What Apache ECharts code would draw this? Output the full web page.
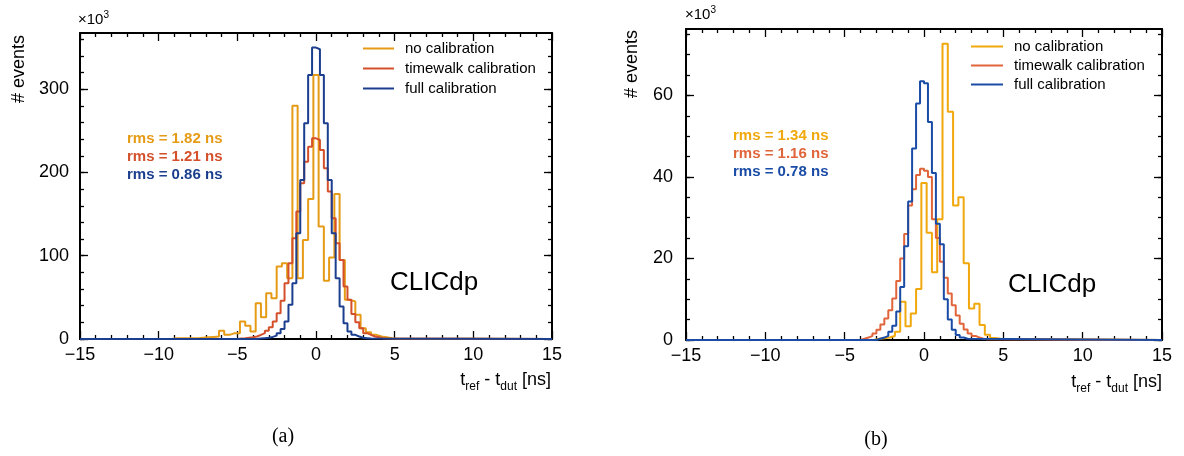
<!DOCTYPE html>
<html><head><meta charset="utf-8">
<script src="https://cdn.jsdelivr.net/npm/echarts@6/dist/echarts.min.js"></script>
<style>html,body{margin:0;padding:0;background:#fff}#c{width:1184px;height:456px}</style>
</head><body><div id="c"></div>
<script>
const FONT = '"Liberation Sans", Arial, Helvetica, sans-serif';
const seriesNames = ['no calibration', 'timewalk calibration', 'full calibration'];
const xTicks = [-15, -10, -5, 0, 5, 10, 15];
const noCalWidth = 1 / 3;   // ns per bin (no calibration)
const calWidth = 0.25;      // ns per bin (calibrated)

// ---------- panel (a) ----------
const aNoCalLo = -55 / 6;
const aNoCal = [1,1,1,1,1,1.5,2,2.5,3,10,5,7,7,21,16,9,43,26,55,49,87,91,73,280,73,119,168,317,135,70,98,174,95,47,45,29,13,8,5,3,2,1,0.5];
const aTwLo = -5.0;
const aTw = [0.7,1,1.5,2,3,5,7,10,14,21,31,46,67,91,121,153,187,213,231,241,239,227,205,177,145,115,95,63,47,30,20,13,7,5,3,2,1,0.5];
const aFullLo = -3.75;
const aFull = [0.5,1,1.5,2.5,4,7,12,21,41,67,127,191,259,317,350,348,317,259,191,127,73,39,19,9,5,3,1.5,1,0.5];
const aYTicks = [0, 100, 200, 300];
const aYMax = 367.5;
const aRms = ['rms = 1.82 ns', 'rms = 1.21 ns', 'rms = 0.86 ns'];
const aColors = ['#e69b16', '#d4502b', '#1b3e8e'];

// ---------- panel (b) ----------
const bNoCalLo = -19 / 6;
const bNoCal = [0.3,0.4,0.6,1.0,2.0,9.4,3.4,6.5,12.5,38.5,26.3,16.6,29.6,72.7,56,33,35,18.8,7.7,8.9,3.7,1.3,0.5,0.3];
const bTwLo = -4.0;
const bTw = [0.3,0.6,1,1.6,2.5,3.8,5.3,7.3,10.2,14.5,20,26,33,37,40.5,42,41.5,40,29.6,25,19.2,15.3,11.4,8.5,6,4,2.6,1.6,1,0.6,0.3,0.2];
const bFullLo = -3.0;
const bFull = [0.3,0.6,1,2,3.5,7,13,23,34,47,58,63.5,63,53.5,41,28.5,23.5,10,5,2.5,1.2,0.6,0.3];
const bYTicks = [0, 20, 40, 60];
const bYMax = 76.3;
const bRms = ['rms = 1.34 ns', 'rms = 1.16 ns', 'rms = 0.78 ns'];
const bColors = ['#f0a80c', '#e0653a', '#1a4ca6'];

function hist(lo, w, counts) {
  const d = [[xTicks[0], 0]];
  counts.forEach((c, i) => d.push([lo + i * w, c]));
  d.push([lo + counts.length * w, 0]);
  d.push([xTicks[xTicks.length - 1], 0]);
  return d;
}
function steps(step, max) { const a = []; for (let k = 0; k * step <= max; k++) a.push(k * step); return a; }
function fmtX(v) { return v < 0 ? '\u2212' + (-v) : String(v); }

const panels = [
  { grid: { left: 80, right: 632, top: 33, bottom: 117 }, yMax: aYMax, yTicks: aYTicks, yMinor: steps(20, aYMax), cols: aColors, labelMargin: 11,
    hists: [hist(aNoCalLo, noCalWidth, aNoCal), hist(aTwLo, calWidth, aTw), hist(aFullLo, calWidth, aFull)],
    legend: { left: 363, top: 41, itemWidth: 31, itemGap: 5 } },
  { grid: { left: 686, right: 22, top: 29, bottom: 116 }, yMax: bYMax, yTicks: bYTicks, yMinor: steps(5, bYMax), cols: bColors, labelMargin: 13,
    hists: [hist(bNoCalLo, noCalWidth, bNoCal), hist(bTwLo, calWidth, bTw), hist(bFullLo, calWidth, bFull)],
    legend: { left: 971, top: 39, itemWidth: 32, itemGap: 4 } }
];

const axisLineStyle = { color: '#000', width: 2 };
const tickStyle = { color: '#000', width: 1.3 };
const grid = [], xAxis = [], yAxis = [], series = [], legend = [];
panels.forEach((p, i) => {
  grid.push(Object.assign({ containLabel: false, outerBoundsMode: 'none' }, p.grid));
  ['bottom', 'top'].forEach(pos => xAxis.push({
    type: 'value', gridIndex: i, min: xTicks[0], max: xTicks[xTicks.length - 1], interval: 5, position: pos,
    axisLine: { show: true, onZero: false, lineStyle: axisLineStyle },
    axisTick: { show: true, inside: true, length: 8, lineStyle: tickStyle },
    minorTick: { show: true, splitNumber: 5, length: 4, lineStyle: tickStyle },
    axisLabel: { show: pos === 'bottom', fontSize: 18, color: '#000', fontFamily: FONT, margin: 7, formatter: fmtX },
    splitLine: { show: false }
  }));
  ['left', 'right'].forEach(pos => {
    yAxis.push({
      type: 'value', gridIndex: i, min: 0, max: p.yMax, position: pos,
      axisLine: { show: true, onZero: false, lineStyle: axisLineStyle },
      axisTick: { show: true, inside: true, length: 8, customValues: p.yTicks, lineStyle: tickStyle },
      axisLabel: { show: pos === 'left', customValues: p.yTicks, fontSize: 18, color: '#000', fontFamily: FONT, margin: p.labelMargin },
      splitLine: { show: false }
    });
    yAxis.push({
      type: 'value', gridIndex: i, min: 0, max: p.yMax, position: pos,
      axisLine: { show: false, onZero: false },
      axisTick: { show: true, inside: true, length: 4, customValues: p.yMinor, lineStyle: tickStyle },
      axisLabel: { show: false },
      splitLine: { show: false }
    });
  });
  p.hists.forEach((d, k) => series.push({
    type: 'line', name: seriesNames[k], step: 'end', symbol: 'none', data: d,
    xAxisIndex: 2 * i, yAxisIndex: 4 * i, clip: true, silent: true,
    lineStyle: { color: p.cols[k], width: 2 }, itemStyle: { color: p.cols[k] },
    emphasis: { disabled: true }, z: 2 + k
  }));
  legend.push(Object.assign({
    orient: 'vertical', itemHeight: 2, icon: 'rect', selectedMode: false, padding: 0,
    textStyle: { fontSize: 15, fontFamily: FONT, color: '#000', lineHeight: 14, padding: [0, 0, 0, 6] },
    data: seriesNames.map((n, k) => ({ name: n, icon: 'rect', itemStyle: { color: p.cols[k] } }))
  }, p.legend));
});

function txt(x, y, text, opts) {
  const o = opts || {};
  return {
    type: 'text', x: x, y: y, rotation: o.rotation || 0, silent: true,
    style: Object.assign({
      text: text, fill: o.fill || '#000', font: o.font || ('18px ' + FONT),
      align: o.align || 'left', textAlign: o.align || 'left',
      verticalAlign: 'middle', textVerticalAlign: 'middle'
    }, o.rich ? { rich: o.rich } : {})
  };
}
const supRich = { m: { fontSize: 15, fontFamily: FONT, lineHeight: 20, verticalAlign: 'middle' }, p: { fontSize: 10, fontFamily: FONT, lineHeight: 20, verticalAlign: 'top' } };
const subRich = { m: { fontSize: 18, fontFamily: FONT, lineHeight: 26, verticalAlign: 'middle' }, s: { fontSize: 12, fontFamily: FONT, lineHeight: 26, verticalAlign: 'bottom' } };
const xTitle = '{m|t}{s|ref}{m| - t}{s|dut}{m| [ns]}';

const graphic = [
  txt(78, 20, '{m|\u00d710}{p|3}', { rich: supRich }),
  txt(685, 15, '{m|\u00d710}{p|3}', { rich: supRich }),
  txt(19, 35, '# events', { rotation: Math.PI / 2, align: 'right' }),
  txt(632, 30, '# events', { rotation: Math.PI / 2, align: 'right' }),
  txt(551, 380, xTitle, { align: 'right', rich: subRich }),
  txt(1162, 382, xTitle, { align: 'right', rich: subRich }),
  txt(390, 283, 'CLICdp', { font: '26px ' + FONT }),
  txt(1008, 285, 'CLICdp', { font: '26px ' + FONT }),
  txt(283, 437, '(a)', { align: 'center', font: '20px "Liberation Serif", "Times New Roman", serif' }),
  txt(876, 440, '(b)', { align: 'center', font: '20px "Liberation Serif", "Times New Roman", serif' })
];
const aRmsY = [139, 157, 175], bRmsY = [136, 154, 172];
aRms.forEach((t, k) => graphic.push(txt(127, aRmsY[k], t, { fill: aColors[k], font: 'bold 15px ' + FONT })));
bRms.forEach((t, k) => graphic.push(txt(733, bRmsY[k], t, { fill: bColors[k], font: 'bold 15px ' + FONT })));

const chart = echarts.init(document.getElementById('c'), null, { renderer: 'canvas' });
chart.setOption({
  animation: false, backgroundColor: '#fff',
  grid: grid, xAxis: xAxis, yAxis: yAxis, series: series, legend: legend,
  graphic: { elements: graphic }
});
</script></body></html>
